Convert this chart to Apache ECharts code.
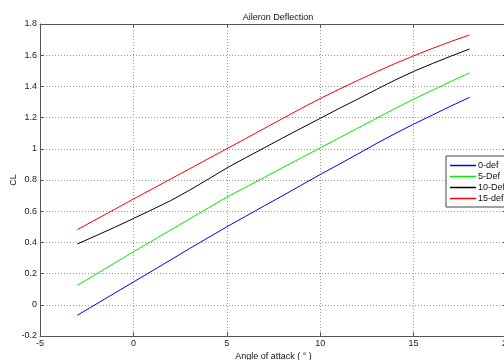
<!DOCTYPE html>
<html>
<head>
<meta charset="utf-8">
<script src="https://cdn.jsdelivr.net/npm/echarts@6/dist/echarts.min.js"></script>
<style>
html,body{margin:0;padding:0;background:#fff;overflow:hidden;}
#c{width:504px;height:360px;}
</style>
</head>
<body>
<div id="c"></div>
<script>
const alpha = [-3,-2,-1,0,1,2,3,4,5,6,7,8,9,10,11,12,13,14,15,16,17,18];
const def0  = [-0.067,0.004,0.075,0.146,0.217,0.288,0.36,0.43,0.50,0.567,0.634,0.70,0.768,0.835,0.90,0.966,1.033,1.097,1.158,1.216,1.274,1.33];
const def5  = [0.125,0.197,0.268,0.34,0.41,0.48,0.55,0.62,0.69,0.753,0.816,0.88,0.943,1.006,1.069,1.132,1.195,1.258,1.318,1.375,1.432,1.487];
const def10 = [0.39,0.443,0.497,0.553,0.61,0.668,0.734,0.805,0.877,0.942,1.006,1.07,1.133,1.195,1.258,1.318,1.38,1.44,1.496,1.546,1.594,1.64];
const def15 = [0.482,0.547,0.612,0.678,0.742,0.807,0.871,0.936,1.0,1.065,1.13,1.195,1.26,1.322,1.381,1.438,1.493,1.546,1.596,1.643,1.688,1.73];
const seriesNames = ['0-def','5-Def','10-Def','15-def'];
const xTicks = ['-5','0','5','10','15','20'];
const yTicks = ['-0.2','0','0.2','0.4','0.6','0.8','1','1.2','1.4','1.6','1.8'];

const FONT = 'Liberation Sans';
const axisCol = '#555';
const chart = echarts.init(document.getElementById('c'));
const pair = a => alpha.map((x,i)=>[x,a[i]]);
const colors = ['#0000ff','#00ee00','#000000','#ff0000'];
const datas = [def0,def5,def10,def15];

const commonX = {
  type:'value', min:-5, max:20, interval:5,
  axisLine:{show:true,onZero:false,lineStyle:{color:axisCol,width:1}},
  axisTick:{show:true,inside:true,length:4,lineStyle:{color:axisCol}},
  splitLine:{show:false}
};
const commonY = {
  type:'value', min:-0.2, max:1.8, interval:0.2,
  axisLine:{show:true,onZero:false,lineStyle:{color:axisCol,width:1}},
  axisTick:{show:true,inside:true,length:4,lineStyle:{color:axisCol}},
  splitLine:{show:false}
};

chart.setOption({
  animation:false,
  backgroundColor:'#fff',
  title:{text:'Aileron Deflection',left:273,top:8,textAlign:'center',
    textStyle:{fontFamily:FONT,fontSize:9,fontWeight:'normal',color:'#111'}},
  grid:{left:40,right:-3,top:24,bottom:24,containLabel:false,outerBoundsMode:'none'},
  legend:{
    orient:'vertical', left:446, top:156,
    data:seriesNames,
    icon:'rect', itemWidth:26, itemHeight:1.5, itemGap:0,
    padding:[4,30,3,4],
    borderColor:'#444', borderWidth:1, backgroundColor:'#fff',
    textStyle:{fontFamily:FONT,fontSize:9,color:'#111',lineHeight:11,padding:[0,0,0,-3]}
  },
  xAxis:[
    Object.assign({},commonX,{position:'bottom',
      name:'Angle of attack ( \u00b0 )',nameLocation:'middle',nameGap:16,nameMoveOverlap:false,
      nameTextStyle:{fontFamily:FONT,fontSize:9,color:'#111'},
      axisLabel:{fontFamily:FONT,fontSize:9,color:'#222',margin:3,
        formatter:(v)=>xTicks[Math.round((v+5)/5)]},
      splitLine:{show:true,lineStyle:{color:'#999',type:[1,2],width:1}}}),
    Object.assign({},commonX,{position:'top',axisLabel:{show:false}})
  ],
  yAxis:[
    Object.assign({},commonY,{position:'left',
      name:'CL',nameLocation:'middle',nameGap:22,nameMoveOverlap:false,
      nameTextStyle:{fontFamily:FONT,fontSize:9,color:'#111'},
      axisLabel:{fontFamily:FONT,fontSize:9,color:'#222',margin:3,
        formatter:(v)=>yTicks[Math.round((v+0.2)/0.2)]},
      splitLine:{show:true,lineStyle:{color:'#999',type:[1,2],width:1}}}),
    Object.assign({},commonY,{position:'right',axisLabel:{show:false}})
  ],
  series: seriesNames.map((n,i)=>({
    name:n, type:'line', data:pair(datas[i]), showSymbol:false, symbol:'none',
    xAxisIndex:0, yAxisIndex:0,
    lineStyle:{color:colors[i],width:1}, itemStyle:{color:colors[i]}
  }))
});
</script>
</body>
</html>
